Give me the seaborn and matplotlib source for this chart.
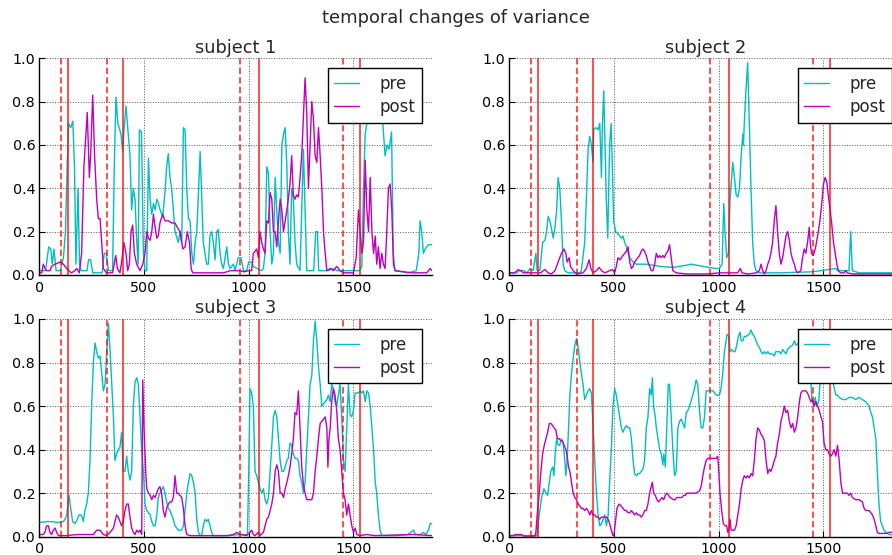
import matplotlib
matplotlib.use("Agg")
import matplotlib.pyplot as plt
import pandas as pd
import seaborn as sns

# ---------------- data ----------------
subjects = ["subject 1", "subject 2", "subject 3", "subject 4"]
series_names = ["pre", "post"]
x_ticks = [0, 500, 1000, 1500]
y_ticks = [0.0, 0.2, 0.4, 0.6, 0.8, 1.0]
dashed_events = [105, 325, 960, 1452]
solid_events = [136, 400, 1047, 1533]

pre1 = [(0,0.02),(30,0.02),(45,0.13),(55,0.12),(62,0.05),(70,0.12),(80,0.02),(100,0.02),(115,0.08),(125,0.2),(133,0.5),(140,0.7),(150,0.68),(160,0.71),(168,0.5),(175,0.05),(185,0.4),(192,0.05),(200,0.02),(228,0.02),(235,0.07),(245,0.07),(255,0.01),(300,0.01),(310,0.1),(320,0.1),(330,0.02),(350,0.02),(358,0.5),(366,0.82),(375,0.7),(390,0.65),(398,0.57),(405,0.68),(414,0.78),(425,0.65),(433,0.55),(441,0.3),(449,0.4),(457,0.35),(465,0.16),(472,0.05),(478,0.67),(488,0.66),(497,0.1),(505,0.02),(513,0.02),(521,0.54),(529,0.35),(537,0.28),(545,0.33),(553,0.3),(561,0.35),(569,0.33),(577,0.3),(589,0.27),(600,0.38),(608,0.5),(616,0.56),(624,0.45),(632,0.4),(640,0.3),(648,0.2),(664,0.15),(672,0.2),(680,0.15),(688,0.68),(696,0.67),(704,0.4),(712,0.26),(720,0.25),(728,0.1),(736,0.05),(744,0.15),(752,0.2),(768,0.57),(776,0.35),(783,0.15),(791,0.1),(799,0.05),(807,0.05),(815,0.18),(823,0.2),(831,0.15),(839,0.07),(847,0.2),(855,0.21),(863,0.1),(871,0.05),(879,0.03),(895,0.13),(903,0.05),(911,0.03),(927,0.05),(935,0.02),(950,0.08),(963,0.08),(975,0.02),(990,0.02),(1000,0.06),(1014,0.06),(1022,0.04),(1040,0.03),(1060,0.02),(1070,0.03),(1078,0.1),(1086,0.5),(1094,0.47),(1102,0.2),(1110,0.05),(1118,0.1),(1126,0.45),(1134,0.3),(1142,0.15),(1150,0.1),(1158,0.6),(1166,0.65),(1174,0.68),(1182,0.5),(1189,0.2),(1197,0.05),(1205,0.4),(1213,0.35),(1221,0.15),(1229,0.05),(1245,0.02),(1253,0.3),(1261,0.58),(1269,0.3),(1277,0.02),(1310,0.02),(1320,0.2),(1328,0.2),(1334,0.02),(1380,0.02),(1400,0.03),(1420,0.02),(1530,0.02),(1540,0.04),(1548,0.4),(1556,0.65),(1564,0.7),(1575,0.8),(1590,0.72),(1600,0.85),(1611,0.75),(1625,0.8),(1640,0.7),(1651,0.55),(1660,0.6),(1670,0.58),(1682,0.66),(1690,0.1),(1698,0.02),(1760,0.01),(1800,0.02),(1812,0.1),(1818,0.25),(1826,0.2),(1834,0.1),(1842,0.12),(1858,0.14),(1875,0.14)]

post1 = [(0,0.01),(12,0.01),(19,0.05),(27,0.03),(35,0.02),(51,0.02),(59,0.04),(75,0.05),(100,0.06),(115,0.05),(131,0.03),(140,0.02),(154,0.01),(170,0.02),(178,0.03),(191,0.01),(202,0.1),(213,0.5),(229,0.75),(239,0.45),(245,0.55),(255,0.83),(264,0.55),(274,0.35),(282,0.26),(290,0.26),(298,0.15),(306,0.03),(320,0.01),(350,0.01),(365,0.09),(373,0.03),(385,0.01),(393,0.06),(404,0.15),(414,0.1),(422,0.02),(430,0.05),(438,0.2),(446,0.23),(454,0.1),(465,0.05),(481,0.02),(494,0.05),(505,0.1),(513,0.2),(521,0.17),(529,0.16),(537,0.2),(545,0.28),(553,0.22),(561,0.17),(568,0.18),(576,0.24),(589,0.28),(600,0.25),(616,0.25),(632,0.24),(648,0.24),(659,0.22),(672,0.2),(685,0.12),(696,0.13),(707,0.2),(717,0.15),(725,0.03),(732,0.01),(800,0.01),(880,0.01),(911,0.02),(950,0.02),(980,0.015),(1000,0.02),(1014,0.02),(1022,0.1),(1038,0.12),(1046,0.08),(1054,0.2),(1062,0.15),(1070,0.12),(1078,0.1),(1086,0.25),(1094,0.24),(1102,0.38),(1110,0.35),(1118,0.2),(1126,0.2),(1134,0.13),(1142,0.25),(1150,0.35),(1158,0.3),(1166,0.2),(1174,0.25),(1182,0.3),(1189,0.35),(1197,0.42),(1205,0.55),(1213,0.37),(1221,0.35),(1229,0.37),(1237,0.36),(1245,0.45),(1253,0.55),(1261,0.73),(1269,0.91),(1277,0.75),(1285,0.4),(1293,0.6),(1301,0.8),(1309,0.72),(1317,0.55),(1325,0.52),(1333,0.68),(1341,0.55),(1349,0.4),(1357,0.2),(1365,0.1),(1373,0.02),(1389,0.03),(1404,0.02),(1420,0.04),(1436,0.02),(1452,0.01),(1500,0.01),(1513,0.08),(1524,0.3),(1532,0.2),(1540,0.1),(1548,0.15),(1556,0.53),(1564,0.3),(1572,0.2),(1580,0.45),(1588,0.2),(1596,0.1),(1604,0.18),(1611,0.05),(1619,0.13),(1627,0.03),(1635,0.1),(1643,0.05),(1651,0.03),(1659,0.2),(1667,0.4),(1675,0.42),(1683,0.3),(1691,0.05),(1699,0.02),(1780,0.01),(1850,0.01),(1866,0.03),(1875,0.02)]

pre2 = [(0,0.01),(35,0.01),(50,0.02),(70,0.02),(85,0.01),(99,0.03),(114,0.02),(127,0.1),(133,0.02),(146,0.02),(159,0.15),(170,0.16),(178,0.2),(186,0.27),(194,0.25),(202,0.21),(210,0.17),(218,0.22),(226,0.3),(233,0.45),(241,0.4),(249,0.25),(257,0.05),(265,0.02),(280,0.01),(337,0.01),(344,0.02),(360,0.15),(368,0.35),(376,0.58),(384,0.64),(392,0.6),(400,0.52),(403,0.67),(413,0.68),(424,0.67),(432,0.7),(440,0.45),(444,0.68),(451,0.85),(457,0.6),(463,0.35),(470,0.17),(479,0.6),(486,0.7),(492,0.5),(498,0.25),(508,0.2),(519,0.19),(527,0.18),(535,0.17),(543,0.18),(551,0.15),(559,0.13),(567,0.1),(575,0.08),(591,0.06),(606,0.05),(654,0.05),(718,0.04),(781,0.035),(813,0.04),(845,0.045),(868,0.05),(895,0.045),(924,0.04),(955,0.035),(987,0.03),(1003,0.03),(1016,0.05),(1024,0.33),(1030,0.2),(1038,0.08),(1046,0.1),(1054,0.35),(1067,0.52),(1075,0.45),(1083,0.37),(1091,0.36),(1099,0.4),(1107,0.55),(1115,0.65),(1118,0.6),(1122,0.7),(1130,0.85),(1138,0.98),(1146,0.7),(1154,0.4),(1162,0.15),(1170,0.05),(1178,0.02),(1194,0.01),(1300,0.01),(1450,0.015),(1559,0.03),(1567,0.02),(1622,0.02),(1630,0.2),(1638,0.02),(1670,0.01),(1875,0.01)]

post2 = [(0,0.01),(25,0.01),(43,0.025),(55,0.02),(67,0.01),(150,0.01),(162,0.02),(170,0.025),(186,0.01),(202,0.005),(218,0.02),(233,0.06),(249,0.1),(261,0.12),(270,0.1),(276,0.06),(286,0.08),(292,0.04),(305,0.02),(321,0.005),(352,0.01),(368,0.03),(381,0.07),(389,0.03),(400,0.01),(416,0.02),(429,0.035),(440,0.02),(456,0.01),(479,0.02),(492,0.025),(503,0.01),(511,0.04),(519,0.08),(527,0.07),(535,0.08),(543,0.09),(551,0.1),(559,0.11),(567,0.13),(575,0.06),(583,0.03),(591,0.04),(598,0.06),(606,0.07),(614,0.08),(622,0.09),(630,0.11),(638,0.12),(646,0.11),(654,0.09),(662,0.06),(670,0.04),(678,0.02),(686,0.02),(694,0.05),(702,0.1),(710,0.08),(718,0.09),(726,0.08),(733,0.09),(741,0.08),(749,0.1),(757,0.11),(765,0.14),(773,0.08),(781,0.02),(797,0.01),(845,0.005),(950,0.005),(1003,0.01),(1040,0.01),(1090,0.01),(1103,0.03),(1111,0.01),(1140,0.005),(1180,0.01),(1194,0.02),(1202,0.05),(1210,0.02),(1218,0.005),(1226,0.02),(1234,0.05),(1242,0.07),(1249,0.1),(1257,0.15),(1265,0.25),(1273,0.32),(1281,0.2),(1289,0.1),(1297,0.05),(1305,0.08),(1313,0.13),(1321,0.18),(1329,0.2),(1337,0.16),(1345,0.1),(1353,0.07),(1361,0.05),(1369,0.02),(1377,0.01),(1392,0.02),(1400,0.08),(1408,0.12),(1416,0.1),(1424,0.15),(1432,0.22),(1437,0.15),(1443,0.1),(1451,0.09),(1461,0.12),(1472,0.18),(1483,0.25),(1492,0.33),(1500,0.42),(1508,0.45),(1516,0.43),(1524,0.36),(1532,0.3),(1540,0.23),(1548,0.15),(1556,0.1),(1564,0.05),(1571,0.02),(1582,0.01),(1598,0.01),(1606,0.02),(1614,0.01),(1638,0.005),(1875,0.005)]

pre3 = [(0,0.065),(40,0.07),(67,0.068),(91,0.065),(115,0.07),(123,0.08),(131,0.1),(142,0.19),(150,0.13),(159,0.07),(170,0.06),(182,0.08),(189,0.1),(199,0.1),(205,0.09),(210,0.07),(218,0.12),(226,0.15),(234,0.2),(242,0.35),(250,0.6),(258,0.8),(266,0.89),(274,0.85),(282,0.82),(290,0.83),(298,0.75),(306,0.67),(314,0.7),(322,0.85),(330,0.98),(338,0.85),(346,0.7),(354,0.55),(361,0.35),(369,0.38),(377,0.4),(385,0.41),(393,0.48),(401,0.3),(409,0.3),(417,0.37),(425,0.3),(433,0.26),(441,0.3),(449,0.6),(457,0.71),(465,0.73),(473,0.7),(481,0.55),(489,0.4),(497,0.3),(505,0.15),(513,0.12),(529,0.1),(537,0.07),(545,0.05),(553,0.05),(561,0.1),(568,0.18),(576,0.2),(592,0.23),(600,0.2),(608,0.16),(616,0.13),(624,0.12),(632,0.1),(640,0.08),(648,0.05),(664,0.03),(680,0.03),(688,0.05),(696,0.12),(704,0.2),(712,0.25),(720,0.29),(728,0.28),(736,0.25),(744,0.2),(752,0.08),(760,0.02),(768,0.005),(775,0.005),(783,0.05),(791,0.08),(799,0.07),(807,0.08),(815,0.05),(823,0.02),(831,0.005),(900,0.005),(959,0.01),(994,0.01),(1000,0.3),(1006,0.68),(1014,0.66),(1022,0.6),(1030,0.3),(1038,0.28),(1046,0.25),(1054,0.22),(1062,0.2),(1070,0.22),(1078,0.17),(1086,0.15),(1094,0.18),(1102,0.3),(1110,0.42),(1118,0.55),(1126,0.58),(1134,0.55),(1142,0.45),(1150,0.35),(1158,0.3),(1166,0.3),(1174,0.32),(1182,0.35),(1189,0.36),(1197,0.43),(1205,0.42),(1213,0.38),(1221,0.36),(1229,0.36),(1237,0.35),(1245,0.28),(1253,0.25),(1261,0.2),(1269,0.25),(1277,0.4),(1285,0.55),(1293,0.7),(1301,0.74),(1309,0.9),(1317,0.99),(1325,0.9),(1333,0.78),(1341,0.7),(1349,0.6),(1357,0.61),(1365,0.62),(1373,0.63),(1381,0.65),(1389,0.62),(1396,0.7),(1404,0.68),(1412,0.62),(1420,0.6),(1428,0.65),(1436,0.7),(1444,0.55),(1452,0.35),(1460,0.3),(1468,0.5),(1476,0.7),(1484,0.56),(1492,0.55),(1500,0.58),(1508,0.66),(1516,0.66),(1524,0.66),(1532,0.67),(1540,0.66),(1548,0.67),(1556,0.62),(1564,0.67),(1572,0.66),(1580,0.6),(1588,0.5),(1596,0.4),(1604,0.25),(1611,0.2),(1619,0.1),(1627,0.03),(1635,0.005),(1700,0.005),(1760,0.01),(1787,0.03),(1795,0.01),(1820,0.01),(1834,0.02),(1845,0.01),(1858,0.03),(1866,0.06),(1875,0.06)]

post3 = [(0,0.01),(19,0.01),(27,0.02),(35,0.05),(43,0.05),(51,0.02),(59,0.01),(67,0.03),(75,0.04),(83,0.02),(91,0.005),(130,0.005),(180,0.01),(234,0.01),(258,0.01),(274,0.03),(290,0.03),(306,0.01),(322,0.005),(338,0.02),(354,0.04),(361,0.07),(369,0.1),(377,0.09),(385,0.07),(393,0.05),(401,0.07),(409,0.12),(417,0.15),(425,0.15),(433,0.09),(441,0.04),(449,0.02),(457,0.01),(465,0.03),(473,0.02),(481,0.03),(489,0.01),(494,0.72),(500,0.5),(508,0.3),(513,0.22),(521,0.2),(529,0.19),(537,0.17),(545,0.19),(553,0.18),(561,0.2),(568,0.22),(576,0.23),(584,0.2),(592,0.12),(600,0.09),(608,0.13),(616,0.15),(624,0.16),(632,0.16),(640,0.18),(648,0.28),(656,0.2),(664,0.2),(672,0.19),(680,0.18),(688,0.13),(696,0.05),(704,0.01),(720,0.005),(850,0.005),(900,0.005),(927,0.01),(943,0.02),(959,0.01),(990,0.005),(1006,0.02),(1014,0.03),(1022,0.01),(1030,0.005),(1046,0.02),(1054,0.005),(1070,0.02),(1078,0.05),(1086,0.08),(1094,0.09),(1102,0.12),(1110,0.15),(1118,0.2),(1126,0.3),(1134,0.33),(1142,0.3),(1150,0.2),(1158,0.2),(1166,0.18),(1174,0.22),(1182,0.25),(1189,0.28),(1197,0.32),(1205,0.38),(1213,0.45),(1221,0.57),(1229,0.56),(1237,0.67),(1245,0.5),(1253,0.32),(1261,0.24),(1269,0.2),(1277,0.17),(1285,0.17),(1293,0.17),(1301,0.17),(1309,0.2),(1317,0.3),(1325,0.37),(1333,0.45),(1341,0.52),(1349,0.53),(1357,0.54),(1365,0.55),(1373,0.5),(1378,0.32),(1383,0.45),(1389,0.5),(1396,0.62),(1404,0.68),(1412,0.65),(1420,0.58),(1428,0.45),(1436,0.4),(1444,0.3),(1452,0.2),(1460,0.17),(1468,0.1),(1476,0.15),(1484,0.1),(1492,0.05),(1500,0.02),(1508,0.04),(1516,0.01),(1530,0.005),(1564,0.01),(1600,0.005),(1787,0.01),(1875,0.005)]

pre4 = [(0,0.005),(100,0.005),(130,0.005),(133,0.01),(143,0.1),(154,0.18),(165,0.22),(175,0.2),(183,0.19),(191,0.25),(198,0.3),(207,0.32),(213,0.28),(219,0.38),(226,0.45),(234,0.42),(241,0.42),(249,0.45),(257,0.43),(265,0.35),(270,0.28),(276,0.35),(283,0.5),(289,0.65),(297,0.75),(305,0.82),(313,0.88),(321,0.91),(329,0.87),(337,0.8),(344,0.75),(352,0.7),(360,0.63),(368,0.65),(376,0.67),(384,0.68),(392,0.66),(400,0.5),(408,0.35),(416,0.2),(424,0.1),(432,0.05),(440,0.06),(448,0.08),(456,0.1),(464,0.05),(472,0.1),(479,0.25),(487,0.4),(495,0.6),(503,0.68),(511,0.65),(519,0.6),(527,0.55),(535,0.5),(543,0.48),(551,0.5),(559,0.51),(567,0.5),(575,0.5),(583,0.45),(591,0.35),(598,0.29),(606,0.28),(614,0.29),(622,0.29),(630,0.3),(638,0.31),(646,0.35),(654,0.5),(662,0.55),(670,0.68),(678,0.65),(683,0.73),(689,0.6),(697,0.55),(702,0.5),(710,0.45),(718,0.4),(726,0.38),(733,0.33),(738,0.38),(745,0.32),(752,0.5),(759,0.7),(765,0.7),(773,0.55),(781,0.4),(789,0.28),(797,0.3),(805,0.5),(813,0.53),(821,0.54),(829,0.52),(837,0.5),(845,0.57),(853,0.58),(860,0.6),(876,0.65),(884,0.68),(892,0.72),(900,0.7),(908,0.58),(916,0.5),(924,0.5),(932,0.55),(940,0.67),(956,0.67),(972,0.67),(988,0.65),(1003,0.65),(1011,0.68),(1019,0.75),(1027,0.85),(1035,0.9),(1040,0.93),(1048,0.92),(1054,0.85),(1062,0.86),(1070,0.85),(1078,0.85),(1086,0.88),(1094,0.92),(1102,0.94),(1107,0.9),(1115,0.9),(1122,0.92),(1130,0.92),(1146,0.93),(1154,0.95),(1162,0.93),(1170,0.92),(1178,0.9),(1186,0.88),(1194,0.87),(1202,0.85),(1210,0.84),(1218,0.85),(1226,0.84),(1234,0.85),(1242,0.84),(1257,0.84),(1265,0.83),(1273,0.85),(1289,0.85),(1297,0.84),(1305,0.86),(1313,0.85),(1321,0.84),(1329,0.86),(1337,0.87),(1353,0.88),(1361,0.9),(1369,0.88),(1400,0.9),(1424,0.88),(1437,0.75),(1445,0.63),(1453,0.6),(1461,0.64),(1467,0.6),(1477,0.62),(1487,0.75),(1498,0.85),(1519,0.8),(1543,0.72),(1559,0.65),(1567,0.65),(1575,0.64),(1591,0.63),(1607,0.63),(1623,0.64),(1638,0.64),(1654,0.63),(1670,0.64),(1686,0.63),(1702,0.62),(1718,0.6),(1726,0.57),(1734,0.55),(1742,0.5),(1750,0.45),(1757,0.3),(1765,0.15),(1773,0.07),(1781,0.05),(1789,0.03),(1797,0.02),(1813,0.01),(1875,0.01)]

post4 = [(0,0.005),(20,0.005),(27,0.01),(43,0.01),(59,0.01),(67,0.003),(122,0.003),(127,0.02),(133,0.1),(143,0.2),(151,0.3),(159,0.38),(167,0.42),(175,0.45),(183,0.48),(191,0.52),(199,0.52),(207,0.51),(214,0.5),(222,0.49),(230,0.45),(238,0.45),(246,0.44),(254,0.44),(262,0.42),(270,0.4),(276,0.37),(283,0.32),(289,0.3),(297,0.25),(305,0.2),(313,0.18),(321,0.17),(329,0.15),(337,0.14),(344,0.13),(352,0.13),(360,0.12),(368,0.13),(376,0.12),(384,0.1),(392,0.12),(400,0.1),(408,0.1),(416,0.09),(424,0.09),(432,0.08),(440,0.09),(448,0.09),(464,0.09),(472,0.08),(479,0.06),(487,0.03),(495,0.005),(500,0.01),(508,0.08),(514,0.13),(524,0.15),(535,0.14),(543,0.13),(551,0.12),(559,0.12),(567,0.11),(575,0.11),(583,0.12),(591,0.11),(598,0.1),(606,0.11),(614,0.1),(622,0.1),(630,0.09),(638,0.1),(646,0.12),(654,0.12),(662,0.15),(670,0.2),(678,0.23),(683,0.25),(689,0.2),(697,0.19),(705,0.17),(713,0.16),(721,0.17),(729,0.18),(737,0.17),(745,0.19),(752,0.2),(760,0.19),(768,0.18),(784,0.17),(792,0.17),(800,0.18),(824,0.18),(832,0.19),(840,0.19),(848,0.2),(860,0.2),(876,0.2),(892,0.2),(908,0.21),(916,0.23),(924,0.28),(932,0.32),(940,0.35),(948,0.36),(972,0.36),(988,0.36),(995,0.37),(1000,0.3),(1006,0.2),(1014,0.12),(1022,0.06),(1030,0.05),(1038,0.05),(1043,0.02),(1048,0.03),(1054,0.08),(1059,0.03),(1075,0.03),(1083,0.05),(1091,0.1),(1099,0.15),(1107,0.22),(1115,0.26),(1122,0.28),(1130,0.27),(1138,0.28),(1146,0.27),(1154,0.29),(1162,0.28),(1170,0.35),(1178,0.45),(1186,0.5),(1194,0.49),(1202,0.47),(1210,0.46),(1218,0.44),(1226,0.35),(1234,0.29),(1242,0.31),(1249,0.3),(1257,0.32),(1265,0.35),(1273,0.37),(1281,0.43),(1289,0.47),(1297,0.53),(1305,0.56),(1313,0.6),(1321,0.57),(1329,0.58),(1337,0.53),(1345,0.5),(1353,0.52),(1361,0.48),(1369,0.5),(1377,0.55),(1385,0.62),(1392,0.66),(1400,0.67),(1408,0.67),(1416,0.67),(1424,0.66),(1432,0.64),(1440,0.62),(1448,0.63),(1456,0.6),(1464,0.62),(1472,0.6),(1480,0.58),(1488,0.55),(1495,0.53),(1503,0.43),(1511,0.4),(1519,0.4),(1527,0.38),(1535,0.37),(1543,0.38),(1551,0.4),(1559,0.37),(1567,0.42),(1575,0.35),(1583,0.25),(1591,0.2),(1607,0.2),(1614,0.2),(1622,0.19),(1630,0.2),(1638,0.18),(1654,0.17),(1670,0.17),(1686,0.16),(1694,0.13),(1702,0.12),(1718,0.12),(1726,0.11),(1734,0.1),(1742,0.08),(1750,0.05),(1757,0.02),(1765,0.015),(1797,0.015),(1813,0.02),(1875,0.02)]

pre_series = [pre1, pre2, pre3, pre4]
post_series = [post1, post2, post3, post4]

# ---------------- style ----------------
sns.set_theme(style="white")
plt.rcParams.update({
    "font.family": ["DejaVu Sans"],
    "axes.edgecolor": "black",
    "axes.linewidth": 1.0,
    "axes.facecolor": "white",
    "figure.facecolor": "white",
    "grid.color": "#555555",
    "grid.linestyle": ":",
    "grid.linewidth": 0.7,
    "xtick.color": "black",
    "ytick.color": "black",
    "xtick.direction": "in",
    "ytick.direction": "in",
    "xtick.major.size": 4,
    "ytick.major.size": 4,
    "xtick.major.width": 0.8,
    "ytick.major.width": 0.8,
    "xtick.major.pad": 4,
    "ytick.major.pad": 3,
    "xtick.labelsize": 10.3,
    "ytick.labelsize": 10.3,
    "xtick.bottom": True,
    "ytick.left": True,
})

W, H = 892, 555
fig = plt.figure(figsize=(W / 100, H / 100), dpi=100)

left_px = [39.3, 509.3]
ax_w = 392.7
rows = [(58.3, 275.0), (319.0, 536.7)]
positions = []
for (top, bot) in rows:
    for lp in left_px:
        positions.append([lp / W, 1 - bot / H, ax_w / W, (bot - top) / H])

palette = {"pre": "#00bfbf", "post": "#bf00bf"}

for i, name in enumerate(subjects):
    ax = fig.add_axes(positions[i])
    rows_df = []
    for sname, data in zip(series_names, [pre_series[i], post_series[i]]):
        for xv, yv in data:
            rows_df.append({"t": xv, "variance": yv, "phase": sname})
    df = pd.DataFrame(rows_df)
    sns.lineplot(data=df, x="t", y="variance", hue="phase", hue_order=series_names,
                 palette=palette, estimator=None, sort=False, linewidth=1.0, ax=ax)
    for ev in dashed_events:
        ax.axvline(ev, color="red", alpha=0.75, linewidth=1.3, linestyle=(0, (3.5, 1.8)))
    for ev in solid_events:
        ax.axvline(ev, color="red", alpha=0.75, linewidth=1.3)
    ax.set_xlim(0, 1875)
    ax.set_ylim(0, 1.0)
    ax.set_xticks(x_ticks)
    ax.set_xticklabels([str(v) for v in x_ticks])
    ax.set_yticks(y_ticks)
    ax.set_yticklabels([f"{v:.1f}" for v in y_ticks])
    ax.grid(True)
    ax.set_xlabel("")
    ax.set_ylabel("")
    for s in ["top", "right"]:
        ax.spines[s].set_visible(False)
    ax.set_title(name, fontsize=12.8, pad=4)
    handles, labels = ax.get_legend_handles_labels()
    leg = ax.legend(handles, labels, loc="upper right", fontsize=12,
                    frameon=True, fancybox=False, framealpha=1.0, edgecolor="black",
                    handlelength=1.5, handletextpad=1.2, borderaxespad=0.6,
                    borderpad=0.4, labelspacing=0.3)
    leg.get_frame().set_linewidth(1.0)

fig.text(456 / W, 1 - 18 / H, "temporal changes of variance", ha="center", va="center",
         fontsize=12.9)

fig.savefig("out.png", dpi=100)
